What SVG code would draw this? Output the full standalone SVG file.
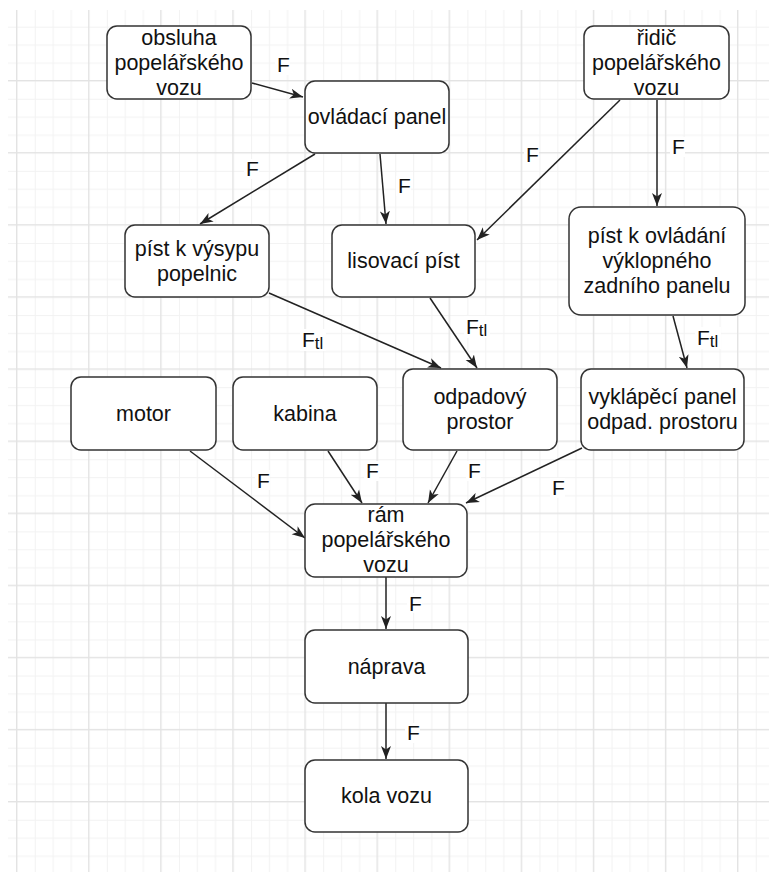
<svg xmlns="http://www.w3.org/2000/svg" width="769" height="872" viewBox="0 0 769 872">
<style>
.box{fill:#fff;stroke:#333;stroke-width:1.5}
.t{font-family:"Liberation Sans",Arial,sans-serif;font-size:21.5px;fill:#111;text-anchor:middle}
.lb{font-family:"Liberation Sans",Arial,sans-serif;font-size:21px;fill:#111}
.sub{font-size:17px}
.e{fill:none;stroke:#222;stroke-width:1.5;marker-end:url(#arr)}
.bg{fill:#fff}
</style>
<defs>
<pattern id="grid" patternUnits="userSpaceOnUse" x="16" y="7.9" width="72.1" height="72.1">
<rect x="18.7" y="0" width="1" height="72.1" fill="#f2f2f2"/>
<rect x="36.7" y="0" width="1" height="72.1" fill="#f2f2f2"/>
<rect x="54.8" y="0" width="1" height="72.1" fill="#f2f2f2"/>
<rect x="0" y="18.7" width="72.1" height="1" fill="#f2f2f2"/>
<rect x="0" y="36.7" width="72.1" height="1" fill="#f2f2f2"/>
<rect x="0" y="54.8" width="72.1" height="1" fill="#f2f2f2"/>
<rect x="0" y="0" width="1.4" height="72.1" fill="#e3e3e3"/>
<rect x="0" y="0" width="72.1" height="1.4" fill="#e3e3e3"/>
</pattern>
<marker id="arr" markerUnits="userSpaceOnUse" markerWidth="13" markerHeight="11" viewBox="0 0 13 11" refX="13" refY="5.5" orient="auto">
<path d="M0,0.5 L13,5.5 L0,10.5 L3.5,5.5 Z" fill="#222"/>
</marker>
</defs>
<rect x="0" y="0" width="769" height="872" fill="#fff"/>
<rect x="8" y="10" width="761" height="862" fill="url(#grid)"/>

<g id="connectors">
<path class="e" d="M252,83 L303,97"/>
<path class="e" d="M315,154 L200,224"/>
<path class="e" d="M380,154 L386,224"/>
<path class="e" d="M620,100 L477,240"/>
<path class="e" d="M657,100 L657,206"/>
<path class="e" d="M269,293 L441,368"/>
<path class="e" d="M430,298 L477,368"/>
<path class="e" d="M673,316 L687,368"/>
<path class="e" d="M190,451 L305,538"/>
<path class="e" d="M328,451 L362,503"/>
<path class="e" d="M457,451 L428,503"/>
<path class="e" d="M582,448 L466,503"/>
<path class="e" d="M386,577 L386,629"/>
<path class="e" d="M386,703 L386,759"/>
<g id="labels">
<rect class="bg" x="275" y="55" width="15" height="20"/><text class="lb" x="277" y="72">F</text>
<rect class="bg" x="244" y="159" width="15" height="20"/><text class="lb" x="246" y="176">F</text>
<rect class="bg" x="396" y="176" width="15" height="20"/><text class="lb" x="398" y="193">F</text>
<rect class="bg" x="524" y="145" width="15" height="20"/><text class="lb" x="526" y="162">F</text>
<rect class="bg" x="670" y="137" width="15" height="20"/><text class="lb" x="672" y="154">F</text>
<rect class="bg" x="300" y="329" width="26" height="22"/><text class="lb" x="302" y="347">F<tspan class="sub" dy="2">tl</tspan></text>
<rect class="bg" x="464" y="316" width="26" height="22"/><text class="lb" x="466" y="334">F<tspan class="sub" dy="2">tl</tspan></text>
<rect class="bg" x="695" y="327" width="26" height="22"/><text class="lb" x="697" y="345">F<tspan class="sub" dy="2">tl</tspan></text>
<rect class="bg" x="255" y="470" width="15" height="20"/><text class="lb" x="257" y="488">F</text>
<rect class="bg" x="364" y="461" width="15" height="20"/><text class="lb" x="366" y="478">F</text>
<rect class="bg" x="466" y="461" width="15" height="20"/><text class="lb" x="468" y="478">F</text>
<rect class="bg" x="550" y="478" width="15" height="20"/><text class="lb" x="552" y="495">F</text>
<rect class="bg" x="407" y="593" width="15" height="20"/><text class="lb" x="409" y="611">F</text>
<rect class="bg" x="405" y="723" width="15" height="20"/><text class="lb" x="407" y="740">F</text>
</g>
</g>

<g id="obsluha"><rect class="box" x="107" y="26" width="144" height="73" rx="10"/>
<text class="t" x="179" y="45">obsluha</text><text class="t" x="179" y="70">popelářského</text><text class="t" x="179" y="95">vozu</text></g>
<g id="ovladaci-panel"><rect class="box" x="305" y="81" width="144" height="72" rx="10"/>
<text class="t" x="377" y="124">ovládací panel</text></g>
<g id="ridic"><rect class="box" x="584" y="26" width="145" height="73" rx="10"/>
<text class="t" x="656.5" y="45">řidič</text><text class="t" x="656.5" y="70">popelářského</text><text class="t" x="656.5" y="95">vozu</text></g>
<g id="pist-vysyp"><rect class="box" x="125" y="225" width="144" height="72" rx="10"/>
<text class="t" x="197" y="256">píst k výsypu</text><text class="t" x="197" y="281">popelnic</text></g>
<g id="lisovaci-pist"><rect class="box" x="332" y="225" width="143" height="72" rx="10"/>
<text class="t" x="403.5" y="268">lisovací píst</text></g>
<g id="pist-ovladani"><rect class="box" x="569" y="207" width="176" height="108" rx="12"/>
<text class="t" x="657" y="243">píst k ovládání</text><text class="t" x="657" y="268">výklopného</text><text class="t" x="657" y="293">zadního panelu</text></g>
<g id="motor"><rect class="box" x="71" y="377" width="145" height="73" rx="10"/>
<text class="t" x="143.5" y="421">motor</text></g>
<g id="kabina"><rect class="box" x="233" y="377" width="144" height="73" rx="10"/>
<text class="t" x="305" y="421">kabina</text></g>
<g id="odpadovy-prostor"><rect class="box" x="403" y="369" width="154" height="81" rx="10"/>
<text class="t" x="480" y="404">odpadový</text><text class="t" x="480" y="429">prostor</text></g>
<g id="vyklapeci-panel"><rect class="box" x="581" y="369" width="163" height="81" rx="10"/>
<text class="t" x="662.5" y="404">vyklápěcí panel</text><text class="t" x="662.5" y="429">odpad. prostoru</text></g>
<g id="ram"><rect class="box" x="305" y="504" width="162" height="73" rx="10"/>
<text class="t" x="386" y="522">rám</text><text class="t" x="386" y="547">popelářského</text><text class="t" x="386" y="572">vozu</text></g>
<g id="naprava"><rect class="box" x="305" y="630" width="163" height="73" rx="10"/>
<text class="t" x="386.5" y="674">náprava</text></g>
<g id="kola-vozu"><rect class="box" x="305" y="760" width="163" height="72" rx="10"/>
<text class="t" x="386.5" y="803">kola vozu</text></g>
</svg>
